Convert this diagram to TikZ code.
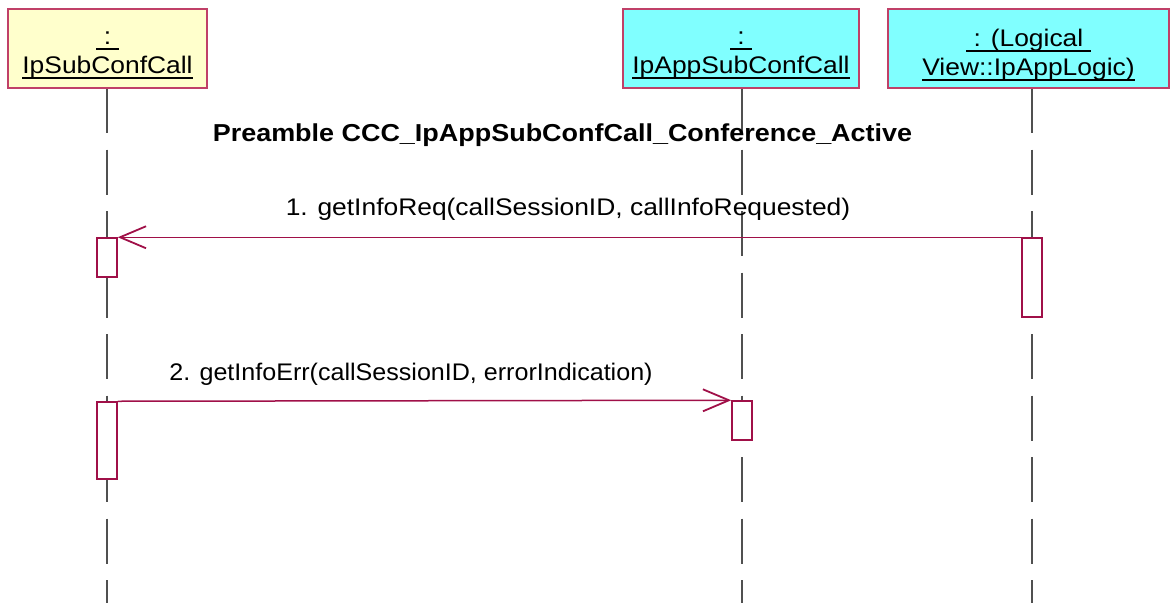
\documentclass[tikz,border=0pt]{standalone}
\usepackage{fontspec}
\setmainfont{Liberation Sans}
\newfontfamily\labfont[FakeStretch=1.1]{Liberation Sans}
\newfontfamily\labfontb[FakeStretch=1.045]{Liberation Sans}
\usetikzlibrary{arrows.meta}
\definecolor{boxline}{RGB}{192,64,104}
\definecolor{msgline}{RGB}{160,16,72}
\definecolor{lifeline}{RGB}{80,80,80}
\definecolor{yellowfill}{RGB}{255,255,204}
\definecolor{cyanfill}{RGB}{128,255,255}
\newcommand\hul[1]{\setbox0\hbox{#1}\rlap{\raisebox{-5.5pt}{\rule{\wd0}{1.8pt}}}\box0}
\tikzset{
  hdr/.style={draw=boxline, line width=1.4pt, inner sep=0pt},
  hdrtext/.style={inner sep=0pt, align=center, font=\labfont\fontsize{24}{29}\selectfont},
  lifel/.style={draw=lifeline, line width=1.5pt, dash pattern=on 45pt off 16.5pt},
  actbox/.style={draw=msgline, line width=1.5pt, fill=white, minimum width=20pt, inner sep=0pt},
  msg/.style={draw=msgline, line width=1.5pt, -{Straight Barb[length=26pt,width=22pt,line width=1.8pt]}},
  lbl/.style={anchor=base, inner sep=0pt, font=\labfont\fontsize{24}{29}\selectfont},
  lblb/.style={anchor=base, inner sep=0pt, font=\labfontb\fontsize{24}{29}\selectfont},
  ttl/.style={anchor=base, inner sep=0pt, font=\labfont\bfseries\fontsize{24.5}{29}\selectfont}
}
\begin{document}
\begin{tikzpicture}[x=1pt,y=-1pt]
\useasboundingbox (0,0) rectangle (1171,603);
% lifelines
\coordinate (l1t) at (107,88); \coordinate (l1b) at (107,603);
\coordinate (l2t) at (742,88); \coordinate (l2b) at (742,603);
\coordinate (l3t) at (1032,88); \coordinate (l3b) at (1032,603);
\draw[lifel] (l1t) -- (l1b);
\draw[lifel] (l2t) -- (l2b);
\draw[lifel] (l3t) -- (l3b);
% headers
\node[hdr, fill=yellowfill, minimum width=199pt, minimum height=79pt] (h1) at (107.5,48.5) {};
\node[hdrtext] (t1) at (107.5,55) {\hul{\ :\ }\\\hul{IpSubConfCall}};
\node[hdr, fill=cyanfill, minimum width=236pt, minimum height=79pt] (h2) at (741,48.5) {};
\node[hdrtext] (t2) at (741,55) {\hul{\ :\ }\\\hul{IpAppSubConfCall}};
\node[hdr, fill=cyanfill, minimum width=281pt, minimum height=79pt] (h3) at (1028.5,48.5) {};
\node[hdrtext] (t3) at (1028.5,55) {\hul{\ : (Logical\ }\\\hul{View::IpAppLogic)}};
% title
\node[ttl] (title) at (562.5,141) {Preamble CCC\_IpAppSubConfCall\_Conference\_Active};
% activations
\node[actbox, minimum height=39pt] (a1) at (107,257.5) {};
\node[actbox, minimum height=79pt] (a3) at (1032,277.5) {};
\node[actbox, minimum height=39pt] (a2) at (742,420.5) {};
\node[actbox, minimum height=77pt] (a1b) at (107,440.5) {};
% messages
\draw[msg] (a3.north west) -- (a1.north east);
\node[lbl] (m1) at (568,215) {1. getInfoReq(callSessionID, callInfoRequested)};
\draw[msg] (a1b.north east) -- (a2.north west);
\node[lblb] (m2) at (411,380) {2. getInfoErr(callSessionID, errorIndication)};
\end{tikzpicture}
\end{document}
